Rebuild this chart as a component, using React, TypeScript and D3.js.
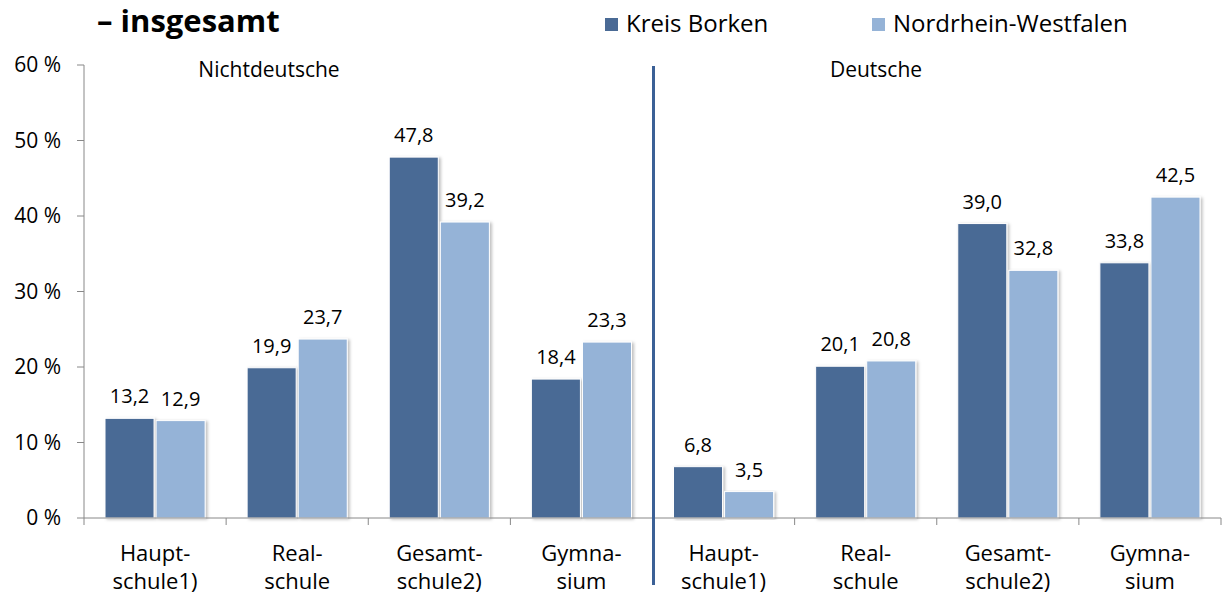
import React from 'react';
import * as d3 from 'd3';

const schoolLine1 = ['Haupt-', 'Real-', 'Gesamt-', 'Gymna-', 'Haupt-', 'Real-', 'Gesamt-', 'Gymna-'];
const schoolLine2 = ['schule1)', 'schule', 'schule2)', 'sium', 'schule1)', 'schule', 'schule2)', 'sium'];
const kreisBorken = [13.2, 19.9, 47.8, 18.4, 6.8, 20.1, 39.0, 33.8];
const nrw = [12.9, 23.7, 39.2, 23.3, 3.5, 20.8, 32.8, 42.5];
const seriesNames = ['Kreis Borken', 'Nordrhein-Westfalen'];
const seriesColors = ['#4a6a95', '#95b3d7'];
const groupLabels = ['Nichtdeutsche', 'Deutsche'];
const yTicks = [0, 10, 20, 30, 40, 50, 60];

const W = 1222;
const H = 594;
const font = '"Open Sans", sans-serif';

export default function App() {
  const x = d3.scaleBand<number>().domain(d3.range(8)).range([84, 1221]);
  const inner = d3.scaleBand<number>().domain([0, 1]).range([21, x.bandwidth() - 21]).paddingInner(0.04);
  const y = d3.scaleLinear().domain([0, 60]).range([518, 65]);
  const fmt = (v: number) => v.toFixed(1).replace('.', ',');
  const divX = x(4)!;
  const legendX = [605, 872];
  const groupX = [269, 876];

  return (
    <svg width={W} height={H} style={{ position: 'absolute', left: 0, top: 0, background: '#fff' }}>
      <defs>
        <filter id="sh" x="-20%" y="-5%" width="140%" height="110%">
          <feDropShadow dx="2" dy="1" stdDeviation="1.5" floodColor="#000" floodOpacity="0.25" />
        </filter>
      </defs>
      <text x={97} y={32} fontFamily={font} fontWeight="bold" fontSize={31} fill="#000">– insgesamt</text>

      {seriesNames.map((n, i) => (
        <g key={n}>
          <rect x={legendX[i]} y={18} width={13} height={13} fill={seriesColors[i]} />
          <text x={legendX[i] + 21} y={32} fontFamily={font} fontSize={24} fill="#000">{n}</text>
        </g>
      ))}

      {/* y axis */}
      <line x1={84} x2={84} y1={y(60)} y2={y(0)} stroke="#888" strokeWidth={1} />
      {yTicks.map(t => (
        <g key={t}>
          <line x1={77} x2={84} y1={y(t)} y2={y(t)} stroke="#888" />
          <text x={61} y={y(t) + 7} textAnchor="end" fontFamily={font} fontSize={21} fill="#000">{t} %</text>
        </g>
      ))}

      {/* bars */}
      {d3.range(8).map(i => (
        [kreisBorken[i], nrw[i]].map((v, s) => {
          const bx = x(i)! + inner(s)!;
          return (
            <g key={`${i}-${s}`}>
              <rect x={bx} y={y(v)} width={inner.bandwidth()} height={y(0) - y(v)}
                fill={seriesColors[s]} stroke="#fff" strokeWidth={1} filter="url(#sh)" />
              <text x={bx + inner.bandwidth() / 2} y={y(v) - 15} textAnchor="middle"
                fontFamily={font} fontSize={20} fill="#000">{fmt(v)}</text>
            </g>
          );
        })
      ))}

      {/* x axis */}
      <line x1={84} x2={1221} y1={y(0)} y2={y(0)} stroke="#888" />
      {d3.range(9).map(i => {
        const tx = i < 8 ? x(i)! : 1221;
        return <line key={i} x1={tx} x2={tx} y1={y(0)} y2={y(0) + 7} stroke="#888" />;
      })}
      {d3.range(8).map(i => {
        const cx = x(i)! + x.bandwidth() / 2;
        return (
          <g key={i}>
            <text x={cx} y={561} textAnchor="middle" fontFamily={font} fontSize={22} fill="#000">{schoolLine1[i]}</text>
            <text x={cx} y={589} textAnchor="middle" fontFamily={font} fontSize={22} fill="#000">{schoolLine2[i]}</text>
          </g>
        );
      })}

      {/* group divider and labels */}
      <line x1={divX + 1} x2={divX + 1} y1={66} y2={585} stroke="#3b6096" strokeWidth={3} />
      {groupLabels.map((g, i) => (
        <text key={g} x={groupX[i]} y={77} textAnchor="middle" fontFamily={font} fontSize={21} fill="#000">{g}</text>
      ))}
    </svg>
  );
}
